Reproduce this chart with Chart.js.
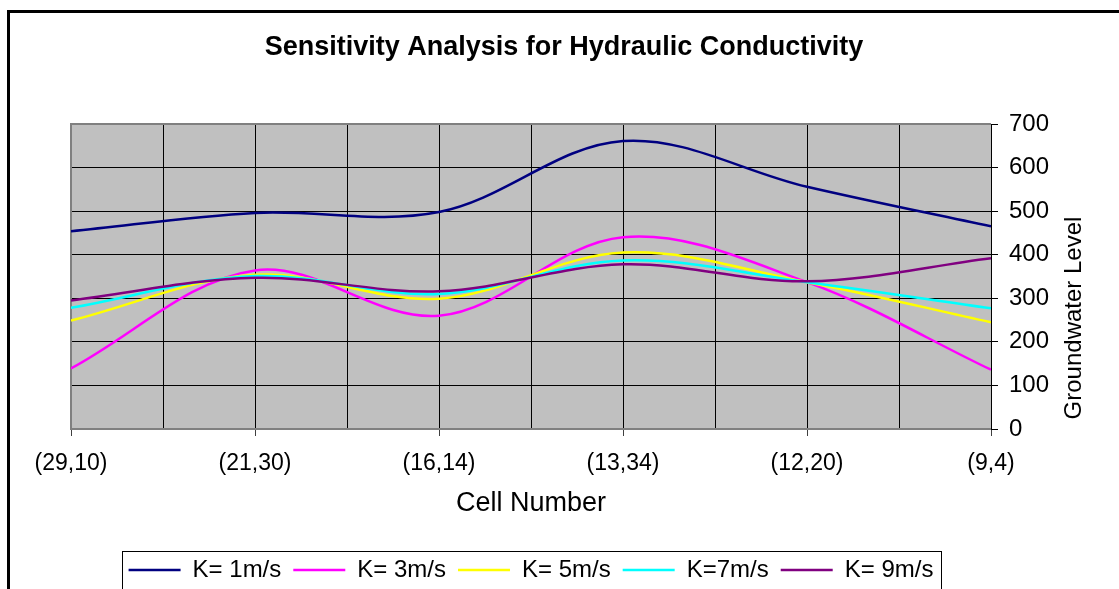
<!DOCTYPE html>
<html>
<head>
<meta charset="utf-8">
<script src="https://cdn.jsdelivr.net/npm/chart.js@4.4.1/dist/chart.umd.min.js"></script>
<style>
  html, body { margin: 0; padding: 0; background: #fff; }
</style>
</head>
<body>
<canvas id="sensChart" width="1119" height="589"></canvas>
<script>
var FONT = '"Liberation Sans", Arial, sans-serif';

// cell labels along the x axis
var cells = ['(29,10)', '(21,30)', '(16,14)', '(13,34)', '(12,20)', '(9,4)'];

// groundwater level per hydraulic conductivity
var k1 = [454, 496, 498, 661, 556, 465];
var k3 = [139, 364, 260, 440, 337, 136];
var k5 = [249, 354, 299, 405, 337, 245];
var k7 = [278, 351, 310, 387, 337, 277];
var k9 = [295, 347, 316, 378, 339, 392];

var seriesNames = ['K= 1m/s', 'K= 3m/s', 'K= 5m/s', 'K=7m/s', 'K= 9m/s'];
var seriesColors = ['#000080', '#ff00ff', '#ffff00', '#00ffff', '#800080'];
var seriesData = [k1, k3, k5, k7, k9];

function toPoints(arr) {
  return arr.map(function(v, i) { return { x: i, y: v }; });
}

var datasets = seriesData.map(function(arr, i) {
  return {
    label: seriesNames[i],
    data: toPoints(arr),
    borderColor: seriesColors[i],
    backgroundColor: seriesColors[i],
    borderWidth: 2.5,
    pointRadius: 0,
    tension: 0.35,
    fill: false,
    order: seriesData.length - i // last series on top, like Excel
  };
});

// background, outer frame, plot border, y title, legend box
var framePlugin = {
  id: 'frame',
  beforeDraw: function(chart) {
    var c = chart.ctx, a = chart.chartArea;
    c.save();
    c.fillStyle = '#fff';
    c.fillRect(0, 0, chart.width, chart.height);
    c.fillStyle = '#000';
    c.fillRect(7, 10, 3, chart.height - 10);
    c.fillRect(7, 10, chart.width - 7, 3);
    c.fillStyle = '#c0c0c0';
    c.fillRect(a.left, a.top, a.right - a.left, a.bottom - a.top);
    c.restore();
  },
  beforeDatasetsDraw: function(chart) {
    var c = chart.ctx, a = chart.chartArea;
    c.save();
    c.strokeStyle = '#808080';
    c.lineWidth = 2;
    c.beginPath();
    c.moveTo(a.left, a.bottom);
    c.lineTo(a.left, a.top);
    c.lineTo(a.right, a.top);
    c.stroke();
    c.restore();
  },
  afterDraw: function(chart) {
    var c = chart.ctx;
    c.save();
    c.fillStyle = '#000';
    c.font = '24px ' + FONT;
    c.textAlign = 'center';
    c.textBaseline = 'middle';
    c.translate(1074, 318);
    c.rotate(-Math.PI / 2);
    c.fillText('Groundwater Level', 0, 0);
    c.restore();

    var boxes = chart.legend.legendHitBoxes;
    if (boxes && boxes.length) {
      var l = Infinity, r = -Infinity, t = boxes[0].top, h = boxes[0].height;
      boxes.forEach(function(b) {
        l = Math.min(l, b.left);
        r = Math.max(r, b.left + b.width);
      });
      c.save();
      c.strokeStyle = '#000';
      c.lineWidth = 1;
      c.strokeRect(Math.round(l - 7) + 0.5, Math.round(t - 7) + 0.5, Math.round(r - l + 14), Math.round(h + 14));
      c.restore();
    }
  }
};

Chart.defaults.font.family = FONT;
Chart.defaults.color = '#000';

var ctx = document.getElementById('sensChart').getContext('2d');
var sensChart = new Chart(ctx, {
  type: 'line',
  data: { datasets: datasets },
  options: {
    responsive: false,
    animation: false,
    layout: { padding: { left: 9, right: 0, top: 0, bottom: -3 } },
    plugins: {
      title: {
        display: true,
        text: 'Sensitivity Analysis for Hydraulic Conductivity',
        color: '#000',
        font: { size: 27, weight: 'bold' },
        padding: { top: 31, bottom: 60.6 }
      },
      legend: {
        position: 'bottom',
        fullSize: false,
        labels: {
          usePointStyle: true,
          pointStyle: 'line',
          pointStyleWidth: 52,
          padding: 12,
          color: '#000',
          font: { size: 24 },
          sort: function(a, b) { return a.datasetIndex - b.datasetIndex; }
        }
      },
      tooltip: { enabled: false }
    },
    scales: {
      x: {
        type: 'linear',
        min: 0,
        max: 5,
        grid: {
          color: '#000',
          lineWidth: 1,
          tickLength: 7,
          tickColor: function(c) { return Number.isInteger(c.tick.value) ? '#404040' : 'rgba(0,0,0,0)'; }
        },
        border: { color: '#808080', width: 2 },
        ticks: {
          stepSize: 0.5,
          autoSkip: false,
          maxRotation: 0,
          padding: 14,
          font: { size: 23 },
          callback: function(value) { return Number.isInteger(value) ? cells[value] : ''; }
        },
        title: {
          display: true,
          text: 'Cell Number',
          font: { size: 27 },
          padding: { top: 0, bottom: 26 }
        },
        afterFit: function(s) { s.height = 117; }
      },
      y: {
        position: 'right',
        min: 0,
        max: 700,
        grid: { color: '#000', lineWidth: 1, tickLength: 7, tickColor: '#000' },
        border: { color: '#000', width: 1 },
        ticks: { stepSize: 100, padding: 11, font: { size: 24 } },
        afterFit: function(s) { s.width = 128; }
      },
      yPad: {
        position: 'left',
        display: true,
        grid: { display: false },
        border: { display: false },
        ticks: { display: false },
        afterFit: function(s) { s.width = 62; }
      }
    }
  },
  plugins: [framePlugin]
});
</script>
</body>
</html>
